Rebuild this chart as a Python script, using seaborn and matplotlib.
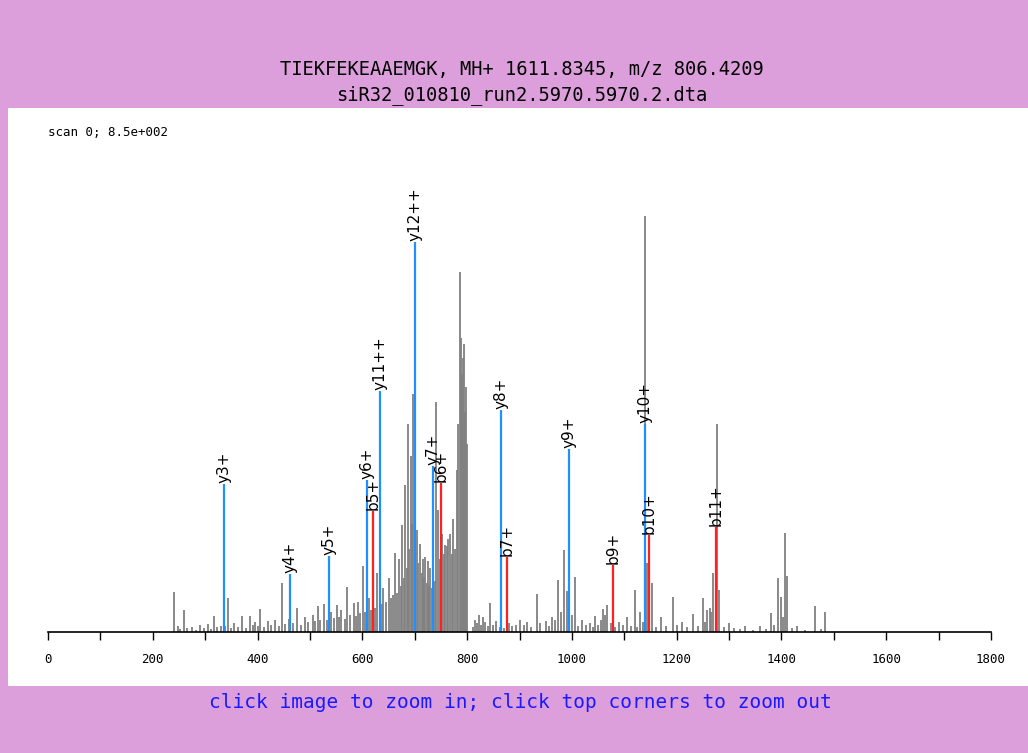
import matplotlib
matplotlib.use('Agg')
import matplotlib.pyplot as plt
import seaborn as sns
from matplotlib.patches import Rectangle
from matplotlib.ticker import MultipleLocator

# gray (unmatched) peaks: m/z and intensity
gray_mz = [240, 248, 260, 275, 290, 305, 317, 330, 343, 355, 370, 385, 395, 405, 420, 433, 447,
           460, 475, 490, 505, 515, 527, 540, 552, 560, 571, 584, 592, 601, 612, 620, 628, 640,
           650, 662, 670, 676, 682, 687, 692, 697, 704, 710, 715, 720, 725, 730, 741, 745, 752,
           758, 764, 771, 777, 783, 786, 790, 794, 797, 800,
           815, 822, 830, 844, 855, 880, 900, 915, 933, 950, 962, 974, 980, 985, 990, 1000, 1006,
           1020, 1035, 1044, 1055, 1060, 1067, 1090, 1105, 1120, 1130, 1140, 1143, 1153, 1170,
           1193, 1210, 1231, 1250, 1258, 1263, 1269, 1277, 1281, 1300, 1330, 1360, 1380, 1393,
           1399, 1407, 1410, 1430, 1464, 1483]
gray_int = [82, 12, 45, 10, 14, 16, 33, 12, 69, 18, 33, 33, 20, 47, 22, 25, 100,
            26, 49, 30, 35, 53, 57, 40, 55, 45, 92, 60, 62, 134, 70, 75, 120, 90,
            110, 161, 150, 218, 300, 426, 360, 487, 208, 180, 150, 153, 145, 130, 469, 250, 200,
            177, 190, 160, 170, 425, 736, 528, 589, 500, 385,
            25, 35, 30, 59, 22, 18, 25, 20, 78, 22, 30, 106, 40, 168, 84, 35, 113,
            25, 18, 32, 25, 48, 55, 20, 30, 86, 40, 850, 141, 100, 30,
            72, 20, 36, 69, 45, 50, 121, 425, 86, 18, 12, 12, 39, 110,
            71, 202, 114, 12, 53, 41]

# low-level background peaks
grass_mz = [252, 266, 282, 297, 312, 323, 337, 349, 362, 377, 391, 400, 412, 426, 440, 453,
            467, 482, 497, 510, 520, 533, 545, 556, 566, 577, 588, 596, 606, 616, 624, 633,
            637, 645, 655, 659, 666, 673, 679, 685, 690, 695, 700, 707, 713, 718, 723, 728,
            733, 738, 748, 755, 761, 767, 774, 780, 788, 792, 796,
            812, 818, 826, 835, 840, 850, 862, 870, 885, 893, 908, 922, 940, 957, 968, 995,
            1012, 1026, 1040, 1050, 1063, 1075, 1083, 1098, 1112, 1125, 1135, 1160, 1180,
            1200, 1220, 1240, 1255, 1266, 1290, 1310, 1320, 1345, 1370, 1386, 1403, 1420,
            1445, 1475]
grass_int = [6, 8, 5, 9, 7, 10, 12, 8, 11, 9, 14, 13, 10, 15, 12, 16,
             18, 14, 20, 22, 25, 24, 28, 30, 26, 35, 32, 38, 40, 45, 50, 55,
             58, 62, 70, 75, 80, 95, 110, 130, 170, 220, 260, 140, 120, 110, 100, 95,
             90, 105, 150, 160, 175, 200, 230, 330, 600, 560, 450,
             10, 18, 14, 20, 12, 15, 10, 8, 12, 15, 14, 10, 18, 12, 25, 20,
             12, 15, 10, 14, 35, 18, 10, 15, 12, 10, 20, 10, 12,
             14, 10, 12, 20, 40, 10, 8, 6, 5, 6, 15, 30, 8,
             5, 6]

# matched fragment ions
y_labels = ['y3+', 'y4+', 'y5+', 'y6+', 'y11++', 'y12++', 'y7+', 'y8+', 'y9+', 'y10+']
y_mz = [336, 462, 536, 609, 634, 700, 735, 865, 994, 1140]
y_int = [302, 118, 155, 311, 492, 797, 339, 453, 374, 425]
b_labels = ['b5+', 'b6+', 'b7+', 'b9+', 'b10+', 'b11+']
b_mz = [620, 750, 876, 1078, 1147, 1275]
b_int = [247, 304, 153, 137, 198, 214]

sns.set_style('white')
plt.rcParams['font.family'] = ['DejaVu Sans Mono', 'DejaVu Sans']
plt.rcParams['text.color'] = 'black'

fig = plt.figure(figsize=(10.28, 7.53), dpi=100)
fig.patch.set_facecolor('#dd9fdc')
fig.patches.append(Rectangle((8 / 1028, 67 / 753), 1 - 8 / 1028, 578 / 753,
                             transform=fig.transFigure, facecolor='white', edgecolor='none', zorder=-5))

ax = fig.add_axes([48 / 1028, 121 / 753, 943 / 1028, 502 / 753])
ax.set_facecolor('none')
ax.vlines(grass_mz, 0, grass_int, color='#808080', linewidth=1.3)
ax.vlines(gray_mz, 0, gray_int, color='#808080', linewidth=1.3)
ax.vlines(y_mz, 0, y_int, color='#1e90ff', linewidth=1.6)
ax.vlines(b_mz, 0, b_int, color='#ff2020', linewidth=1.6)
for lab, m, h in zip(y_labels + b_labels, y_mz + b_mz, y_int + b_int):
    ax.text(m, h + 2, lab, rotation=90, ha='center', va='bottom', fontsize=11,
            family='DejaVu Sans', color='black')

ax.set_xlim(0, 1800)
ax.set_ylim(0, 850 * 502 / 416)
for s in ['top', 'right', 'left']:
    ax.spines[s].set_visible(False)
ax.spines['bottom'].set_color('black')
ax.spines['bottom'].set_linewidth(1.2)
ax.set_yticks([])
ax.xaxis.set_major_locator(MultipleLocator(200))
ax.xaxis.set_minor_locator(MultipleLocator(100))
ax.tick_params(axis='x', which='both', direction='out', bottom=True, length=6, width=1,
               labelsize=9, colors='black', pad=9)

fig.text(522 / 1028, 1 - 69 / 753, 'TIEKFEKEAAEMGK, MH+ 1611.8345, m/z 806.4209',
         ha='center', va='center', fontsize=13.5)
fig.text(522 / 1028, 1 - 95 / 753, 'siR32_010810_run2.5970.5970.2.dta',
         ha='center', va='center', fontsize=13.5)
fig.text(48 / 1028, 1 - 133 / 753, 'scan 0; 8.5e+002', ha='left', va='center', fontsize=9)
fig.text(520 / 1028, 1 - 702 / 753, 'click image to zoom in; click top corners to zoom out',
         ha='center', va='center', fontsize=14, color='#1a1aff')

fig.savefig('out.png', dpi=100, facecolor=fig.get_facecolor())
